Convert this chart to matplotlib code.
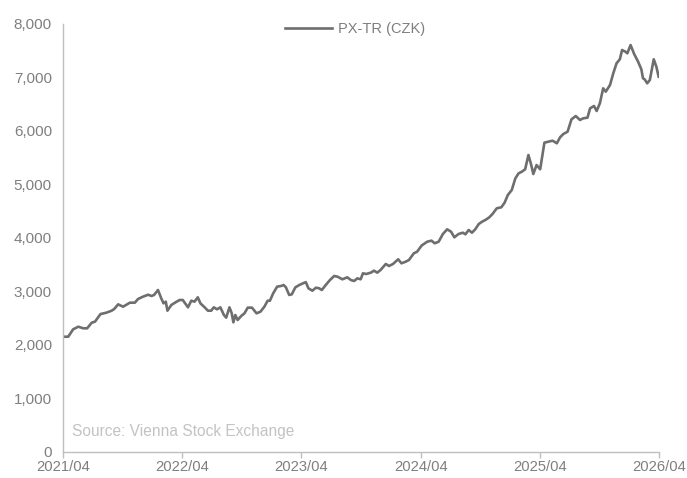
import pandas as pd
import matplotlib
matplotlib.use("Agg")
import matplotlib.pyplot as plt
import matplotlib.dates as mdates
from matplotlib.ticker import FuncFormatter

plt.rcParams["font.family"] = ["Liberation Sans", "DejaVu Sans"]

# PX-TR (CZK) index level, approximate weekly-ish observations
dates = [
    "2021-04-02", "2021-04-17", "2021-05-02", "2021-05-18", "2021-06-02", "2021-06-14",
    "2021-06-28", "2021-07-08", "2021-07-25", "2021-08-12", "2021-08-28", "2021-09-05",
    "2021-09-17", "2021-10-02", "2021-10-23", "2021-11-07", "2021-11-17", "2021-12-02",
    "2021-12-18", "2021-12-28", "2022-01-05", "2022-01-17", "2022-01-27", "2022-02-03",
    "2022-02-10", "2022-02-15", "2022-02-27", "2022-03-12", "2022-03-24", "2022-04-03",
    "2022-04-19", "2022-04-29", "2022-05-09", "2022-05-19", "2022-05-27", "2022-06-09",
    "2022-06-19", "2022-06-29", "2022-07-07", "2022-07-17", "2022-07-27", "2022-08-07",
    "2022-08-14", "2022-08-24", "2022-08-31", "2022-09-05", "2022-09-11", "2022-09-18",
    "2022-09-29", "2022-10-09", "2022-10-19", "2022-11-01", "2022-11-15", "2022-11-27",
    "2022-12-09", "2022-12-19", "2022-12-26", "2023-01-05", "2023-01-17", "2023-01-29",
    "2023-02-06", "2023-02-13", "2023-02-23", "2023-03-03", "2023-03-14", "2023-03-26",
    "2023-04-05", "2023-04-15", "2023-04-23", "2023-05-05", "2023-05-16", "2023-05-26",
    "2023-06-03", "2023-06-15", "2023-06-28", "2023-07-11", "2023-07-21", "2023-08-05",
    "2023-08-20", "2023-08-31", "2023-09-10", "2023-09-20", "2023-09-30", "2023-10-07",
    "2023-10-17", "2023-10-31", "2023-11-10", "2023-11-20", "2023-11-30", "2023-12-16",
    "2023-12-26", "2024-01-07", "2024-01-23", "2024-02-02", "2024-02-15", "2024-02-25",
    "2024-03-11", "2024-03-21", "2024-04-04", "2024-04-21", "2024-05-04", "2024-05-14",
    "2024-05-26", "2024-06-08", "2024-06-21", "2024-07-03", "2024-07-13", "2024-07-26",
    "2024-08-08", "2024-08-16", "2024-08-26", "2024-09-05", "2024-09-15", "2024-09-26",
    "2024-10-06", "2024-10-16", "2024-10-28", "2024-11-07", "2024-11-20", "2024-12-04",
    "2024-12-14", "2024-12-24", "2025-01-05", "2025-01-16", "2025-01-26", "2025-02-05",
    "2025-02-15", "2025-02-25", "2025-03-05", "2025-03-12", "2025-03-22", "2025-04-02",
    "2025-04-15", "2025-04-27", "2025-05-10", "2025-05-23", "2025-06-02", "2025-06-12",
    "2025-06-25", "2025-07-07", "2025-07-20", "2025-08-02", "2025-08-12", "2025-08-25",
    "2025-09-02", "2025-09-14", "2025-09-22", "2025-10-02", "2025-10-12", "2025-10-20",
    "2025-11-02", "2025-11-12", "2025-11-22", "2025-12-02", "2025-12-09", "2025-12-19",
    "2025-12-25", "2026-01-04", "2026-01-15", "2026-01-27", "2026-02-06", "2026-02-11",
    "2026-02-16", "2026-02-24", "2026-03-04", "2026-03-16", "2026-03-24", "2026-03-31",
]
px_tr = [
    2155, 2155, 2293, 2342, 2312, 2312,
    2417, 2436, 2579, 2604, 2641, 2673,
    2760, 2716, 2791, 2791, 2860, 2903,
    2940, 2916, 2935, 3028, 2873, 2779,
    2810, 2641, 2748, 2798, 2841, 2841,
    2704, 2828, 2810, 2891, 2779, 2704,
    2641, 2641, 2704, 2667, 2704, 2561,
    2511, 2704, 2592, 2424, 2561, 2467,
    2542, 2592, 2698, 2698, 2592, 2623,
    2716, 2828, 2828, 2966, 3090, 3103,
    3121, 3078, 2935, 2947, 3078, 3121,
    3150, 3175, 3059, 3015, 3071, 3059,
    3028, 3121, 3215, 3290, 3277, 3228,
    3265, 3215, 3196, 3246, 3228, 3340,
    3327, 3352, 3389, 3352, 3402, 3514,
    3477, 3514, 3602, 3527, 3557, 3589,
    3714, 3744, 3860, 3931, 3950, 3901,
    3931, 4075, 4162, 4118, 4013, 4075,
    4099, 4069, 4150, 4099, 4162, 4262,
    4305, 4336, 4386, 4449, 4555, 4574,
    4660, 4804, 4897, 5116, 5209, 5240,
    5284, 5551, 5380, 5196, 5364, 5284,
    5782, 5800, 5819, 5770, 5882, 5944,
    5987, 6218, 6280, 6206, 6237, 6249,
    6424, 6467, 6374, 6518, 6798, 6735,
    6860, 7078, 7265, 7340, 7514, 7483,
    7452, 7607, 7439, 7296, 7153, 6985,
    6966, 6891, 6953, 7340, 7202, 7015,
]
x_ticks = ["2021-04-01", "2022-04-01", "2023-04-01", "2024-04-01", "2025-04-01", "2026-04-01"]
y_ticks = [0, 1000, 2000, 3000, 4000, 5000, 6000, 7000, 8000]

s = pd.Series(px_tr, index=pd.to_datetime(dates))

axis_grey = "#bfbfbf"
text_grey = "#7f7f7f"

fig = plt.figure(figsize=(6.87, 4.78), dpi=100)
ax = fig.add_axes([0.0917, 0.0544, 0.8675, 0.8954])

ax.plot(s.index, s.values, color="#6e6e6e", lw=1.9, label="PX-TR (CZK)")

ax.set_xlim(pd.Timestamp(x_ticks[0]), pd.Timestamp(x_ticks[-1]))
ax.set_ylim(0, 8000)
ax.set_xticks(pd.to_datetime(x_ticks))
ax.xaxis.set_major_formatter(mdates.DateFormatter("%Y/%m"))
ax.set_yticks(y_ticks)
ax.yaxis.set_major_formatter(FuncFormatter(lambda v, _: f"{v:,.0f}"))

for side in ("top", "right"):
    ax.spines[side].set_visible(False)
for side in ("left", "bottom"):
    ax.spines[side].set_color(axis_grey)
    ax.spines[side].set_linewidth(1.0)

ax.tick_params(axis="x", direction="out", length=4, width=1.0, color=axis_grey,
               labelsize=10.6, labelcolor=text_grey, pad=2)
ax.tick_params(axis="y", length=0, labelsize=11, labelcolor=text_grey, pad=8)

ax.legend(loc="upper center", bbox_to_anchor=(0.49, 1.035), frameon=False,
          fontsize=10.5, labelcolor=text_grey, handlelength=3.2, handletextpad=0.4)

ax.text(0.015, 0.047, "Source: Vienna Stock Exchange", transform=ax.transAxes,
        fontsize=11.2, color="#c3c3c3", va="center", ha="left")

fig.savefig("out.png", dpi=100)
